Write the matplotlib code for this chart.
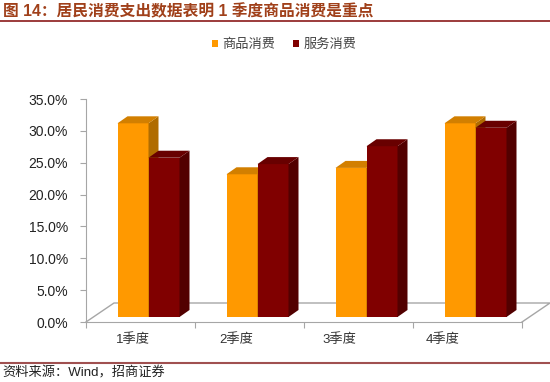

# import pack
import matplotlib
matplotlib.use('Agg')
import matplotlib.pyplot as plt
from matplotlib.patches import Polygon, Patch
from matplotlib.lines import Line2D

plt.rcParams['font.family'] = ['Liberation Sans', 'Noto Sans CJK SC', 'DejaVu Sans']

# data
quarters = ['1季度', '2季度', '3季度', '4季度']
series_names = ['商品消费', '服务消费']
goods = [30.4, 22.4, 23.4, 30.4]
services = [25.0, 24.0, 26.8, 29.7]
y_ticks = [0, 5, 10, 15, 20, 25, 30, 35]

# colours: front, side, top
face_colors = [('#FF9900', '#B06C00', '#D27F00'), ('#800000', '#520000', '#680000')]

# geometry in pixels (figure is 550 x 382)
W, H = 550, 382
AX_L, AX_R, AX_B, AX_T = 86, 522, 322, 99


# px -> data unit helpers
def px_x(p, n):
    return p * n / (AX_R - AX_L)


def px_y(p, ymax):
    return p * ymax / (AX_B - AX_T)


# draw one pseudo 3d column
def column(ax, x0, w, base, v, ddx, ddy, colors):
    front, side, top = colors
    ax.add_patch(Polygon([(x0, base), (x0 + w, base), (x0 + w, base + v), (x0, base + v)],
                         closed=True, fc=front, ec='none', zorder=3, clip_on=False))
    ax.add_patch(Polygon([(x0 + w, base), (x0 + w + ddx, base + ddy),
                          (x0 + w + ddx, base + v + ddy), (x0 + w, base + v)],
                         closed=True, fc=side, ec='none', zorder=3, clip_on=False))
    ax.add_patch(Polygon([(x0, base + v), (x0 + ddx, base + v + ddy),
                          (x0 + w + ddx, base + v + ddy), (x0 + w, base + v)],
                         closed=True, fc=top, ec='none', zorder=3, clip_on=False))


def main():
    fig = plt.figure(figsize=(W / 100, H / 100), dpi=100)
    ax = fig.add_axes([AX_L / W, 1 - AX_B / H, (AX_R - AX_L) / W, (AX_B - AX_T) / H])
    n = len(quarters)
    ymax = y_ticks[-1]
    ax.set_xlim(0, n)
    ax.set_ylim(0, ymax)

    # floor of the 3d box
    fdx, fdy = px_x(28, n), px_y(19, ymax)
    grey = '#A6A6A6'
    ax.add_line(Line2D([0, fdx, n + fdx, n], [0, fdy, fdy, 0], color=grey, lw=1.0,
                       zorder=1, clip_on=False))

    # bars
    w = px_x(31, n)
    offx, offy = px_x(8, n), px_y(5, ymax)
    ddx, ddy = px_x(10, n), px_y(7, ymax)
    for i in range(n):
        cx = i + 0.5 + offx
        for j, vals in enumerate([goods, services]):
            column(ax, cx - w + j * w, w, offy, vals[i], ddx, ddy, face_colors[j])

    # axes styling
    for s in ['top', 'right']:
        ax.spines[s].set_visible(False)
    ax.spines['left'].set_color(grey)
    ax.spines['bottom'].set_color(grey)
    ax.set_yticks(y_ticks)
    ax.set_yticklabels(['%.1f%%' % t for t in y_ticks], fontsize=10, color='#222222')
    ax.tick_params(axis='y', direction='out', length=4, color=grey, pad=9)
    ax.set_xticks(range(n + 1))
    ax.set_xticklabels([''] * (n + 1))
    ax.tick_params(axis='x', direction='out', length=4, color=grey)

    # category labels (slightly pulled in, like the excel 3d layout)
    for i, q in enumerate(quarters):
        ax.text((i + 0.5) * 0.948 - px_x(4.7, n), -px_y(18, ymax), q, ha='center', va='center',
                fontsize=9.5, color='#333333', clip_on=False)

    # legend
    handles = [Patch(fc=c[0], ec='none') for c in face_colors]
    fig.legend(handles, series_names, loc='center', bbox_to_anchor=(284 / W, 1 - 45 / H),
               ncol=2, frameon=False, fontsize=9.5, handlelength=0.45, handleheight=0.5,
               handletextpad=0.35, columnspacing=1.3, labelcolor='#444444')

    # title and source
    fig.text(3 / W, 1 - 11 / H, '图 14：居民消费支出数据表明 1 季度商品消费是重点',
             fontsize=11.3, fontweight='bold', color='#A0401A', va='center', ha='left')
    fig.add_artist(Line2D([0, 1], [1 - 21 / H, 1 - 21 / H], color='#8B1A1A', lw=1.2))
    fig.add_artist(Line2D([0, 1], [1 - 363 / H, 1 - 363 / H], color='#A05050', lw=1.5))
    fig.text(2 / W, 1 - 373 / H, '资料来源：Wind，招商证券', fontsize=9.5, color='#222222',
             va='center', ha='left')

    fig.savefig('out.png', dpi=100)


if __name__ == '__main__':
    main()
